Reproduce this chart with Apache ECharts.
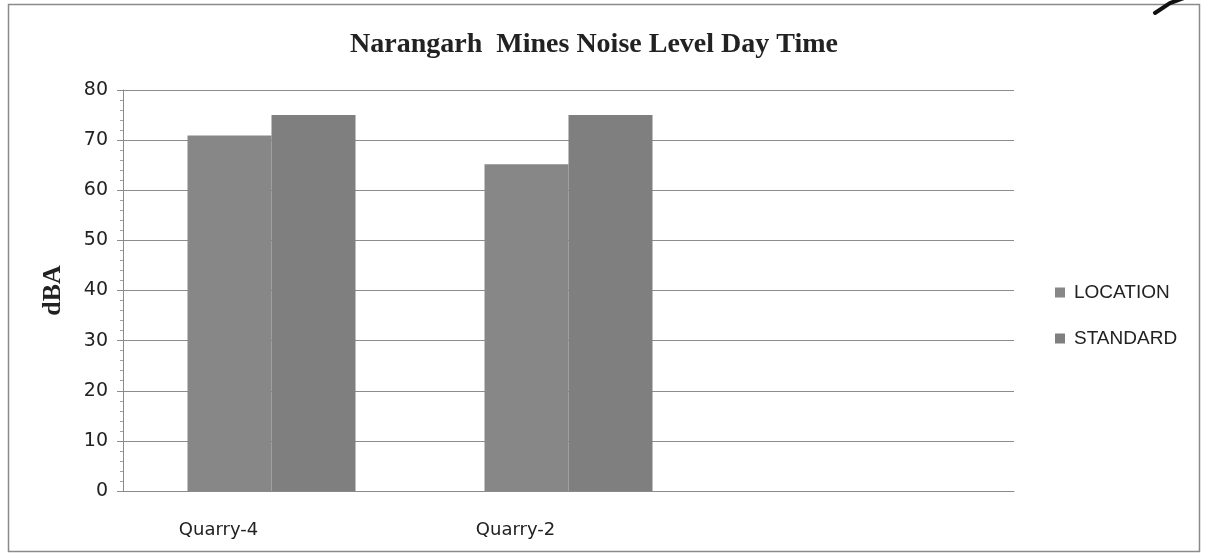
<!DOCTYPE html>
<html>
<head>
<meta charset="utf-8">
<script src="https://cdn.jsdelivr.net/npm/echarts@6/dist/echarts.min.js"></script>
<style>
  html, body { margin: 0; padding: 0; background: #fff; }
  #chart { width: 1205px; height: 559px; }
</style>
</head>
<body>
<div id="chart"></div>
<script>
// Noise level readings (dBA) per quarry
const categories = ['Quarry-4', 'Quarry-2', ''];
const locationValues = [70.9, 65.2, null];
const standardValues = [75, 75, null];
const yTicks = [0, 10, 20, 30, 40, 50, 60, 70, 80];

const chart = echarts.init(document.getElementById('chart'));

chart.setOption({
  animation: false,
  backgroundColor: '#ffffff',
  title: {
    text: 'Narangarh  Mines Noise Level Day Time',
    left: 589,
    top: 26,
    textAlign: 'center',
    textStyle: {
      fontFamily: '"Liberation Serif", "DejaVu Serif", serif',
      fontWeight: 'bold',
      fontSize: 28,
      color: '#222'
    }
  },
  legend: {
    orient: 'vertical',
    left: 1050,
    top: 278,
    itemWidth: 10,
    itemHeight: 10,
    itemGap: 27,
    icon: 'rect',
    textStyle: {
      fontFamily: '"Liberation Sans", Arial, sans-serif',
      fontSize: 19,
      color: '#222',
      padding: [0, 0, 0, 4]
    },
    data: ['LOCATION', 'STANDARD']
  },
  grid: {
    left: 123,
    right: 191,
    top: 90,
    bottom: 68,
    containLabel: false
  },
  xAxis: {
    type: 'category',
    data: categories,
    axisLine: { show: true, lineStyle: { color: '#8a8a8a', width: 1 } },
    axisTick: { show: false },
    axisLabel: {
      fontFamily: '"DejaVu Sans", Verdana, sans-serif',
      fontSize: 18,
      color: '#222',
      margin: 30,
      align: 'center',
      padding: [0, 106, 0, 0]
    }
  },
  yAxis: {
    type: 'value',
    min: 0,
    max: 80,
    interval: 10,
    name: 'dBA',
    nameLocation: 'middle',
    nameGap: 57,
    nameRotate: 90,
    nameTextStyle: {
      fontFamily: '"Liberation Serif", "DejaVu Serif", serif',
      fontWeight: 'bold',
      fontSize: 26,
      color: '#222'
    },
    axisLine: { show: true, lineStyle: { color: '#8a8a8a', width: 1 } },
    axisTick: { show: true, length: 6, lineStyle: { color: '#8a8a8a' } },
    minorTick: { show: true, splitNumber: 5, length: 3, lineStyle: { color: '#a0a0a0' } },
    axisLabel: {
      fontFamily: '"DejaVu Sans", Verdana, sans-serif',
      fontSize: 19,
      color: '#222',
      margin: 15,
      formatter: function (v) { return yTicks.indexOf(v) >= 0 ? String(v) : ''; }
    },
    splitLine: { show: true, lineStyle: { color: '#8c8c8c', width: 1.2 } }
  },
  series: [
    {
      name: 'LOCATION',
      type: 'bar',
      data: locationValues,
      barWidth: 84,
      barGap: '0%',
      itemStyle: { color: '#878787' }
    },
    {
      name: 'STANDARD',
      type: 'bar',
      data: standardValues,
      barWidth: 84,
      barGap: '0%',
      itemStyle: { color: '#7f7f7f' }
    }
  ],
  graphic: [
    {
      type: 'rect',
      shape: { x: 8.5, y: 4.5, width: 1191, height: 547 },
      style: { fill: 'none', stroke: '#8a8a8a', lineWidth: 1.5 },
      silent: true
    },
    {
      type: 'polyline',
      shape: { points: [[1155, 13], [1170, 3], [1184, -2]] },
      style: { stroke: '#111', lineWidth: 4, fill: 'none', lineCap: 'round' },
      silent: true
    }
  ]
});
</script>
</body>
</html>
